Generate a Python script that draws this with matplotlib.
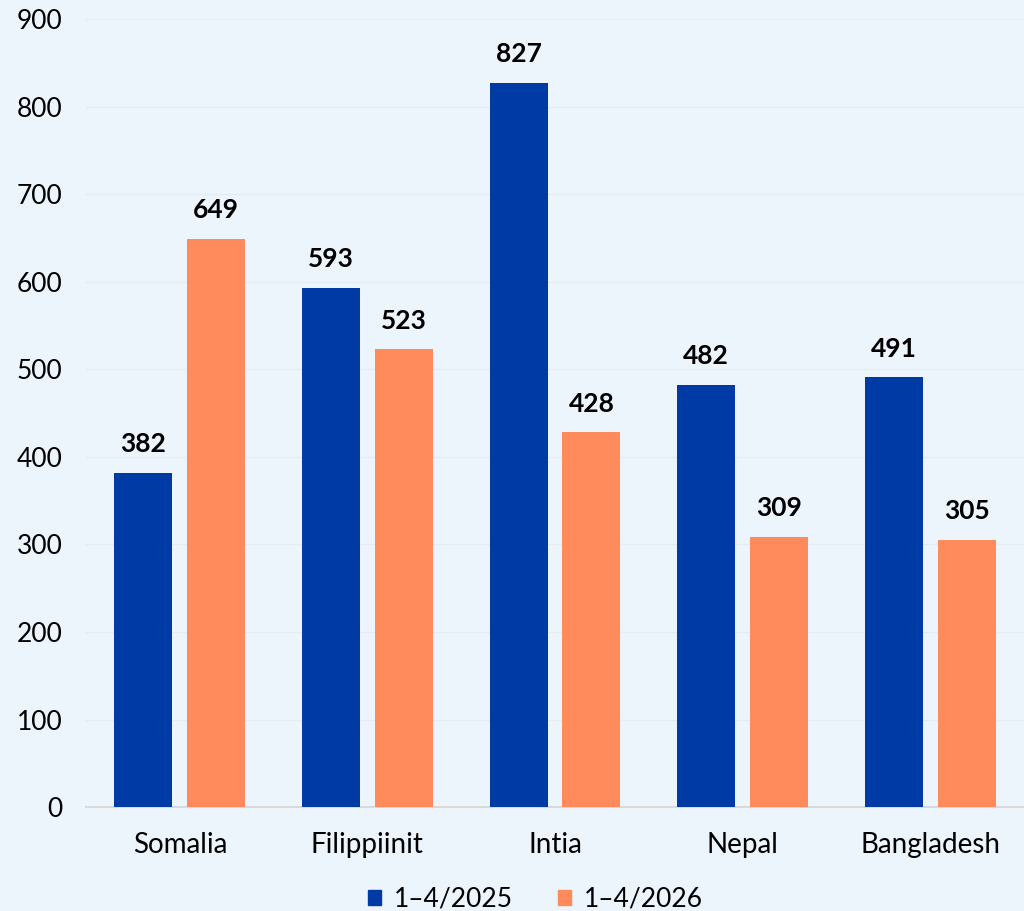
import numpy as np
import matplotlib.pyplot as plt
from matplotlib.patches import Patch

categories = ["Somalia", "Filippiinit", "Intia", "Nepal", "Bangladesh"]
series_names = ["1–4/2025", "1–4/2026"]
values_2025 = [382, 593, 827, 482, 491]
values_2026 = [649, 523, 428, 309, 305]

bg = "#EDF5FC"
blue = "#003BA5"
orange = "#FF8A5B"

plt.rcParams['font.family'] = ['Lato', 'DejaVu Sans']

fig = plt.figure(figsize=(10.24, 9.11), dpi=100, facecolor=bg)
ax = fig.add_axes([0.084, 0.114, 0.916, 0.865], facecolor=bg)

x = np.arange(len(categories))
w = 0.31
off = 0.194
b1 = ax.bar(x - off, values_2025, w, color=blue, zorder=3)
b2 = ax.bar(x + off, values_2026, w, color=orange, zorder=3)

# arvot palkkien päälle
for bars in (b1, b2):
    for rect in bars:
        h = rect.get_height()
        ax.annotate(f"{h:.0f}", xy=(rect.get_x() + rect.get_width() / 2, h),
                    xytext=(0, 12), textcoords='offset points',
                    ha='center', va='bottom', fontsize=19, fontweight='bold')

ax.set_xlim(-0.5, 4.5)
ax.set_ylim(0, 900)
ax.set_yticks(np.arange(0, 901, 100))
ax.set_xticks(x)
ax.set_xticklabels(categories)
ax.tick_params(axis='y', length=0, pad=17, labelsize=19)
ax.tick_params(axis='x', length=0, pad=18, labelsize=20)
ax.grid(axis='y', color='#E4ECF2', linewidth=1, zorder=0)

for s in ['top', 'right', 'left']:
    ax.spines[s].set_visible(False)
ax.spines['bottom'].set_color('#D9D9D9')
ax.spines['bottom'].set_linewidth(1.5)

handles = [Patch(color=blue), Patch(color=orange)]
fig.legend(handles, series_names, loc='center', bbox_to_anchor=(0.523, 0.013),
           ncol=2, frameon=False, fontsize=19, handlelength=0.5, handleheight=0.5,
           handletextpad=0.5, columnspacing=1.7)

fig.savefig("out.png", dpi=100, facecolor=bg)
